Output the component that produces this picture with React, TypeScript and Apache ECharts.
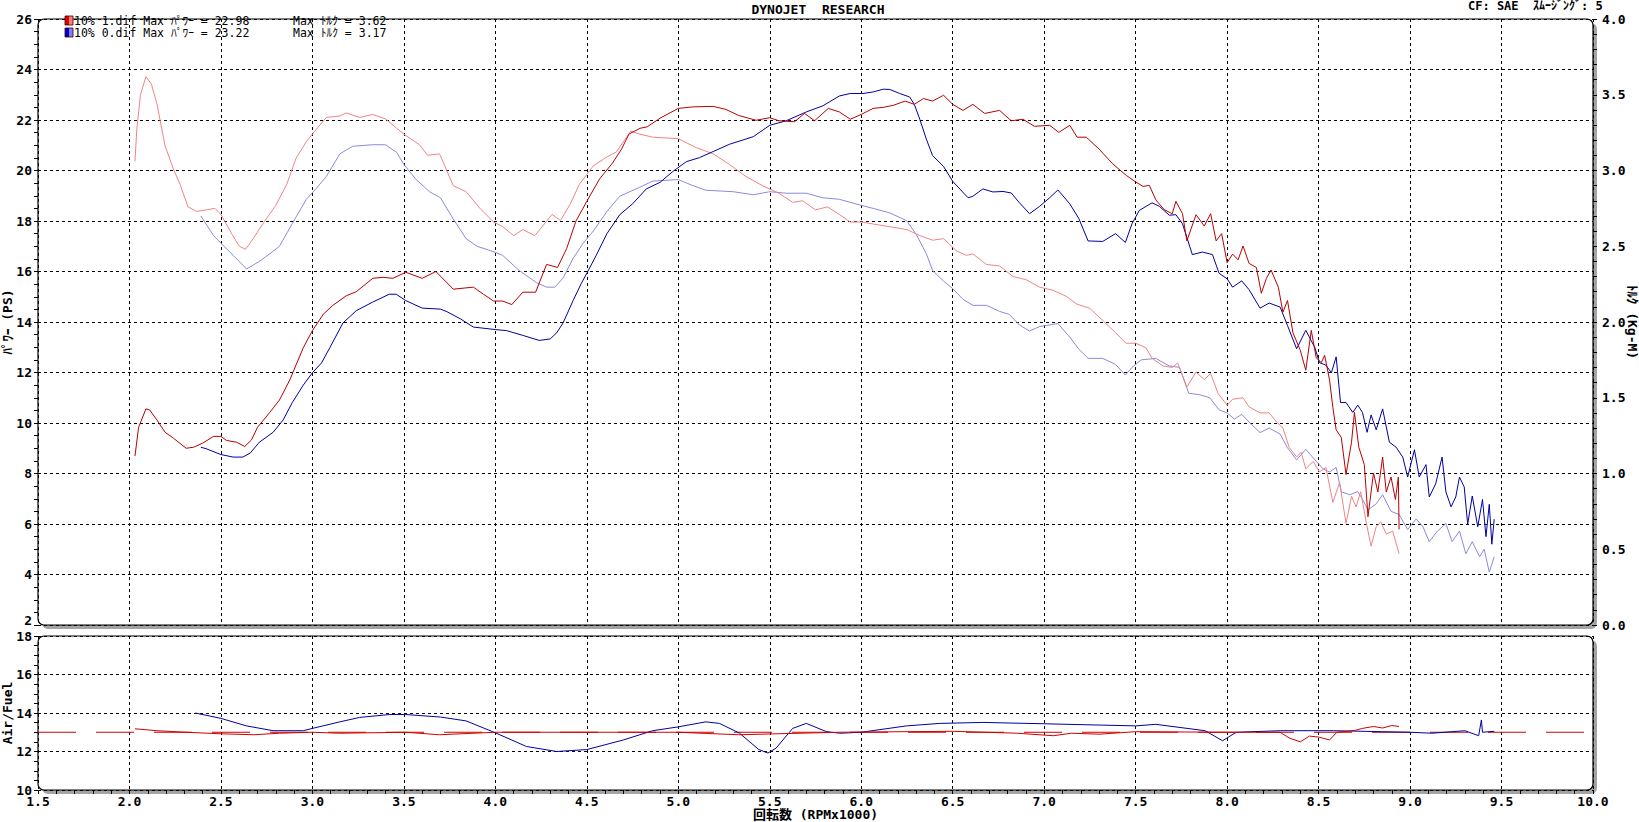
import React, { useEffect, useRef } from "react";
import * as echarts from "echarts";

// ---- Data (RPM x1000, value) ----
const powerRun1: [number, number][] = [
  [2.03,8.69],[2.05,9.83],[2.09,10.56],[2.11,10.52],[2.15,10.12],[2.195,9.63],[2.24,9.40],[2.31,9.00],[2.35,9.04],[2.40,9.20],[2.46,9.47],[2.50,9.47],[2.53,9.31],[2.585,9.24],[2.63,9.07],[2.667,9.33],[2.70,9.83],[2.767,10.42],[2.82,10.91],[2.876,11.70],[2.95,12.98],[3.00,13.66],[3.06,14.31],[3.11,14.65],[3.185,15.04],[3.24,15.20],[3.33,15.73],[3.385,15.77],[3.44,15.73],[3.51,15.97],[3.60,15.73],[3.675,16.00],[3.77,15.30],[3.88,15.38],[3.935,15.10],[3.99,14.83],[4.04,14.83],[4.09,14.69],[4.15,15.18],[4.22,15.18],[4.28,16.28],[4.34,16.16],[4.39,16.91],[4.44,17.99],[4.50,18.78],[4.57,19.67],[4.64,20.29],[4.69,20.85],[4.73,21.44],[4.79,21.67],[4.83,21.73],[4.90,22.07],[5.00,22.46],[5.08,22.52],[5.19,22.54],[5.26,22.42],[5.33,22.18],[5.425,21.99],[5.50,22.09],[5.55,21.97],[5.635,21.93],[5.69,22.26],[5.745,21.97],[5.82,22.46],[5.88,22.32],[5.94,22.03],[6.00,22.22],[6.065,22.46],[6.12,22.50],[6.175,22.58],[6.24,22.75],[6.29,22.62],[6.34,22.85],[6.39,22.75],[6.45,22.98],[6.50,22.62],[6.556,22.38],[6.61,22.62],[6.675,22.26],[6.756,22.38],[6.82,21.97],[6.884,22.03],[6.947,21.75],[7.03,21.79],[7.08,21.51],[7.14,21.79],[7.18,21.32],[7.23,21.32],[7.30,20.85],[7.375,20.26],[7.45,19.80],[7.50,19.55],[7.54,19.37],[7.575,19.41],[7.61,18.84],[7.656,18.45],[7.70,18.29],[7.72,18.78],[7.756,18.29],[7.78,17.21],[7.83,18.25],[7.875,17.80],[7.91,18.29],[7.94,17.21],[7.97,17.50],[8.00,16.35],[8.03,16.69],[8.06,16.46],[8.087,17.01],[8.12,16.32],[8.16,16.16],[8.187,15.14],[8.215,15.73],[8.24,16.06],[8.28,15.38],[8.305,14.39],[8.33,14.85],[8.36,13.57],[8.40,12.88],[8.43,12.09],[8.46,13.67],[8.487,12.58],[8.515,12.39],[8.533,12.68],[8.56,11.70],[8.578,10.62],[8.596,9.73],[8.624,9.43],[8.65,7.96],[8.68,9.24],[8.696,10.42],[8.72,9.04],[8.75,8.35],[8.77,6.29],[8.80,8.02],[8.824,7.27],[8.85,8.65],[8.87,7.27],[8.896,7.86],[8.92,6.97],[8.936,7.86],[8.94,5.79]
];

const powerRun0: [number, number][] = [
  [2.39,9.04],[2.42,8.98],[2.50,8.75],[2.567,8.65],[2.62,8.65],[2.66,8.81],[2.71,9.24],[2.785,9.63],[2.84,10.12],[2.89,10.81],[2.95,11.50],[3.00,11.99],[3.05,12.38],[3.095,12.98],[3.167,13.96],[3.24,14.45],[3.33,14.79],[3.42,15.10],[3.458,15.10],[3.51,14.85],[3.60,14.55],[3.70,14.51],[3.735,14.41],[3.81,14.12],[3.88,13.80],[4.00,13.70],[4.06,13.66],[4.15,13.47],[4.24,13.27],[4.30,13.33],[4.335,13.57],[4.37,13.96],[4.425,14.85],[4.47,15.53],[4.50,15.93],[4.55,16.62],[4.61,17.50],[4.68,18.25],[4.75,18.68],[4.825,19.27],[4.90,19.53],[4.97,19.96],[5.044,20.35],[5.116,20.51],[5.19,20.75],[5.28,21.04],[5.41,21.34],[5.50,21.79],[5.59,21.97],[5.70,22.32],[5.79,22.56],[5.88,22.95],[5.94,23.05],[6.01,23.05],[6.065,23.11],[6.12,23.22],[6.156,23.21],[6.21,23.05],[6.265,22.91],[6.29,22.62],[6.32,22.03],[6.356,21.24],[6.39,20.59],[6.45,20.16],[6.50,19.57],[6.584,18.92],[6.61,18.98],[6.665,19.27],[6.72,19.15],[6.775,19.17],[6.82,19.11],[6.865,18.72],[6.92,18.29],[6.975,18.58],[7.03,18.92],[7.075,19.23],[7.14,18.68],[7.19,18.09],[7.24,17.21],[7.32,17.19],[7.39,17.50],[7.444,17.15],[7.48,17.89],[7.52,18.42],[7.59,18.72],[7.63,18.58],[7.684,18.23],[7.72,18.25],[7.756,17.89],[7.81,16.67],[7.865,16.77],[7.92,16.67],[7.956,15.93],[8.00,15.71],[8.03,15.38],[8.08,15.63],[8.12,15.28],[8.18,14.55],[8.23,14.75],[8.29,14.59],[8.33,13.86],[8.38,12.94],[8.43,13.67],[8.48,12.98],[8.505,12.39],[8.54,12.29],[8.57,11.99],[8.596,12.62],[8.62,10.81],[8.65,10.81],[8.687,10.42],[8.714,10.71],[8.74,10.42],[8.765,9.63],[8.787,10.32],[8.815,9.73],[8.85,10.56],[8.887,9.24],[8.924,9.04],[8.96,8.65],[8.987,7.86],[9.024,8.94],[9.05,7.86],[9.087,8.35],[9.105,7.07],[9.14,7.59],[9.175,8.65],[9.196,7.27],[9.224,6.68],[9.25,7.07],[9.27,7.86],[9.296,7.47],[9.315,5.99],[9.34,7.11],[9.37,5.89],[9.396,6.97],[9.415,5.50],[9.433,6.78],[9.447,5.20],[9.46,6.19]
];

const torqueRun1: [number, number][] = [
  [2.03,3.06],[2.04,3.27],[2.06,3.50],[2.09,3.62],[2.12,3.57],[2.15,3.44],[2.195,3.16],[2.24,3.01],[2.276,2.91],[2.32,2.76],[2.367,2.73],[2.42,2.74],[2.467,2.75],[2.50,2.71],[2.56,2.58],[2.60,2.50],[2.635,2.48],[2.676,2.55],[2.73,2.65],[2.80,2.77],[2.86,2.91],[2.91,3.08],[2.967,3.19],[3.02,3.27],[3.076,3.35],[3.15,3.36],[3.185,3.38],[3.258,3.35],[3.33,3.37],[3.40,3.34],[3.46,3.28],[3.50,3.24],[3.585,3.17],[3.63,3.10],[3.695,3.11],[3.77,2.90],[3.84,2.86],[3.916,2.75],[3.99,2.66],[4.04,2.63],[4.10,2.57],[4.15,2.61],[4.216,2.57],[4.31,2.71],[4.356,2.67],[4.41,2.78],[4.46,2.91],[4.535,3.03],[4.61,3.09],[4.66,3.12],[4.74,3.26],[4.79,3.24],[4.86,3.22],[5.00,3.21],[5.10,3.15],[5.19,3.11],[5.28,3.04],[5.37,2.96],[5.46,2.90],[5.55,2.85],[5.625,2.79],[5.68,2.80],[5.75,2.74],[5.816,2.76],[5.88,2.71],[5.94,2.66],[6.00,2.66],[6.10,2.64],[6.25,2.61],[6.32,2.57],[6.39,2.54],[6.45,2.55],[6.52,2.47],[6.575,2.44],[6.61,2.45],[6.684,2.38],[6.756,2.37],[6.83,2.30],[6.90,2.28],[6.975,2.23],[7.047,2.21],[7.12,2.17],[7.175,2.12],[7.25,2.09],[7.32,2.01],[7.39,1.93],[7.447,1.86],[7.50,1.86],[7.556,1.83],[7.59,1.76],[7.65,1.71],[7.70,1.70],[7.73,1.73],[7.78,1.57],[7.83,1.67],[7.875,1.62],[7.91,1.66],[7.95,1.53],[8.00,1.45],[8.03,1.49],[8.087,1.50],[8.12,1.44],[8.18,1.40],[8.23,1.40],[8.27,1.34],[8.305,1.30],[8.34,1.17],[8.38,1.11],[8.405,1.14],[8.43,1.03],[8.47,1.08],[8.505,1.01],[8.54,1.04],[8.578,0.81],[8.615,0.94],[8.65,0.67],[8.68,0.85],[8.705,0.78],[8.73,0.88],[8.76,0.68],[8.787,0.52],[8.815,0.65],[8.84,0.68],[8.87,0.60],[8.905,0.62],[8.94,0.47]
];

const torqueRun0: [number, number][] = [
  [2.39,2.70],[2.46,2.57],[2.50,2.52],[2.567,2.44],[2.64,2.35],[2.71,2.40],[2.767,2.45],[2.82,2.50],[2.89,2.65],[2.967,2.81],[3.02,2.88],[3.076,2.96],[3.15,3.11],[3.22,3.16],[3.33,3.17],[3.40,3.17],[3.46,3.12],[3.50,3.04],[3.567,2.94],[3.64,2.86],[3.70,2.82],[3.77,2.68],[3.84,2.55],[3.90,2.50],[4.00,2.46],[4.04,2.44],[4.13,2.34],[4.225,2.26],[4.28,2.23],[4.325,2.23],[4.37,2.29],[4.425,2.42],[4.48,2.52],[4.535,2.60],[4.61,2.73],[4.68,2.83],[4.79,2.89],[4.86,2.93],[5.00,2.94],[5.08,2.90],[5.15,2.87],[5.30,2.86],[5.41,2.84],[5.50,2.86],[5.59,2.85],[5.70,2.85],[5.79,2.82],[5.88,2.81],[6.00,2.77],[6.065,2.75],[6.156,2.72],[6.247,2.67],[6.30,2.58],[6.356,2.45],[6.39,2.34],[6.45,2.27],[6.50,2.22],[6.556,2.15],[6.61,2.11],[6.684,2.11],[6.756,2.07],[6.81,2.05],[6.865,1.98],[6.92,1.94],[6.975,1.97],[7.075,1.99],[7.14,1.90],[7.19,1.82],[7.24,1.76],[7.32,1.76],[7.39,1.72],[7.444,1.65],[7.48,1.70],[7.53,1.75],[7.61,1.76],[7.684,1.71],[7.74,1.70],[7.79,1.53],[7.85,1.52],[7.905,1.50],[7.956,1.42],[8.00,1.40],[8.04,1.36],[8.08,1.39],[8.12,1.34],[8.18,1.27],[8.23,1.30],[8.29,1.26],[8.33,1.17],[8.38,1.09],[8.43,1.16],[8.48,1.09],[8.525,1.03],[8.56,1.01],[8.596,1.04],[8.624,0.88],[8.67,0.86],[8.714,0.88],[8.74,0.83],[8.77,0.76],[8.815,0.80],[8.85,0.86],[8.896,0.75],[8.94,0.73],[8.987,0.63],[9.033,0.70],[9.07,0.65],[9.105,0.55],[9.15,0.62],[9.196,0.67],[9.23,0.55],[9.27,0.62],[9.305,0.47],[9.34,0.55],[9.38,0.45],[9.405,0.50],[9.433,0.35],[9.46,0.45]
];

const afrRun1: [number, number][] = [
  [2.03,13.18],[2.15,13.08],[2.31,13.0],[2.50,12.92],[2.68,12.87],[2.82,12.95],[3.00,13.0],[3.15,12.95],[3.51,13.0],[3.695,12.87],[4.00,13.0],[4.50,13.0],[5.00,13.0],[5.33,12.87],[5.88,13.0],[6.50,13.05],[6.85,12.95],[7.05,12.82],[7.15,12.95],[7.30,12.9],[7.50,13.03],[8.00,13.0],[8.29,13.0],[8.34,12.7],[8.40,12.5],[8.45,12.8],[8.50,12.75],[8.56,12.6],[8.60,13.0],[8.70,13.1],[8.74,13.2],[8.80,13.3],[8.85,13.22],[8.90,13.35],[8.94,13.3]
];

const afrRun0: [number, number][] = [
  [2.36,14.0],[2.50,13.72],[2.64,13.33],[2.785,13.08],[2.95,13.08],[3.00,13.2],[3.15,13.54],[3.258,13.77],[3.42,13.92],[3.51,13.92],[3.70,13.79],[3.84,13.59],[4.00,12.97],[4.17,12.26],[4.335,12.0],[4.50,12.1],[4.70,12.6],[4.86,13.08],[5.00,13.28],[5.15,13.54],[5.225,13.46],[5.335,12.95],[5.44,12.1],[5.49,11.92],[5.535,12.18],[5.625,13.2],[5.70,13.46],[5.81,13.03],[5.884,12.95],[6.00,13.0],[6.247,13.33],[6.43,13.46],[6.665,13.51],[7.00,13.44],[7.50,13.33],[7.61,13.41],[7.88,13.08],[7.975,12.56],[8.05,13.0],[8.29,13.08],[8.58,13.08],[9.00,13.0],[9.12,12.95],[9.30,13.08],[9.375,12.82],[9.39,13.64],[9.396,13.0],[9.46,13.05]
];

const afrTarget: [number, number][] = [[1.5, 13], [10, 13]];

const legendRun1 = ["10% 1.dif Max ﾊﾟﾜｰ = 22.98", "Max ﾄﾙｸ = 3.62"];
const legendRun0 = ["10% 0.dif Max ﾊﾟﾜｰ = 23.22", "Max ﾄﾙｸ = 3.17"];
const titleText = "DYNOJET  RESEARCH";
const cornerText = "CF: SAE  ｽﾑｰｼﾞﾝｸﾞ: 5";

// ---- Style ----
const MONO = "'DejaVu Sans Mono', 'Noto Sans CJK JP', monospace";
const DARK_RED = "#b80000";
const DARK_BLUE = "#0000a0";
const LIGHT_RED = "#f08484";
const LIGHT_BLUE = "#8a8ae0";

const G1 = { left: 38, top: 19, width: 1555, height: 606, containLabel: false, outerBoundsMode: "none" };
const G2 = { left: 38, top: 636, width: 1555, height: 154, containLabel: false, outerBoundsMode: "none" };

const dashed = { show: true, lineStyle: { color: "#000", type: [3, 3] as number[], width: 1 } };
const tickStyle = { color: "#000", width: 1 };
const labelStyle = { color: "#000", fontFamily: MONO, fontWeight: "bold" as const, fontSize: 13 };

function panel(g: { left: number; top: number; width: number; height: number }) {
  return [
    {
      type: "rect", z: -2, silent: true,
      shape: { x: g.left + 4, y: g.top + 4, width: g.width, height: g.height, r: 6 },
      style: { fill: "#a4a4a4" },
    },
    {
      type: "rect", z: -1, silent: true,
      shape: { x: g.left, y: g.top, width: g.width, height: g.height, r: 6 },
      style: { fill: "#ffffff", stroke: "#000", lineWidth: 1.2 },
    },
  ];
}

function legendSwatch(y: number, dark: string, light: string) {
  return [
    { type: "rect", z: 10, shape: { x: 65, y, width: 4, height: 9 }, style: { fill: dark } },
    { type: "rect", z: 10, shape: { x: 69, y, width: 4, height: 9 }, style: { fill: light } },
    { type: "rect", z: 11, shape: { x: 65, y, width: 8, height: 9 }, style: { fill: "none", stroke: "#400000", lineWidth: 0.8 } },
  ];
}

function lineSeries(name: string, data: [number, number][], color: string, xi: number, yi: number, width = 1) {
  return {
    name, type: "line", xAxisIndex: xi, yAxisIndex: yi, data,
    showSymbol: false, symbol: "none", z: 5,
    lineStyle: { color, width }, itemStyle: { color },
  };
}

export default function App() {
  const ref = useRef<HTMLDivElement>(null);
  useEffect(() => {
    document.body.style.margin = "0";
    const chart = echarts.init(ref.current!, null, { renderer: "svg" });
    const textCommon = { fontFamily: MONO, fill: "#000" };
    chart.setOption({
      animation: false,
      backgroundColor: "#ffffff",
      grid: [G1, G2],
      xAxis: [
        {
          gridIndex: 0, type: "value", min: 1.5, max: 10, interval: 0.5, z: 3,
          axisLine: { show: false }, axisTick: { show: false }, axisLabel: { show: false },
          splitLine: dashed,
        },
        {
          gridIndex: 1, type: "value", min: 1.5, max: 10, interval: 0.5, z: 3,
          axisLine: { show: false },
          axisTick: { show: true, length: 4, lineStyle: tickStyle },
          minorTick: { show: true, splitNumber: 5, length: 4, lineStyle: tickStyle },
          axisLabel: { ...labelStyle, margin: 5, lineHeight: 12, formatter: (v: number) => v.toFixed(1) },
          splitLine: dashed,
          name: "回転数 (RPMx1000)", nameLocation: "middle", nameGap: 18, nameMoveOverlap: false,
          nameTextStyle: { ...labelStyle, fontSize: 13, lineHeight: 13 },
        },
      ],
      yAxis: [
        {
          gridIndex: 0, type: "value", min: 2, max: 26, interval: 2, position: "left", z: 3,
          axisLine: { show: false },
          axisTick: { show: true, length: 4, lineStyle: tickStyle },
          minorTick: { show: true, splitNumber: 4, length: 4, lineStyle: tickStyle },
          axisLabel: { ...labelStyle, margin: 6, lineHeight: 10, verticalAlignMinLabel: "bottom" },
          splitLine: dashed,
          name: "ﾊﾟﾜｰ (PS)", nameLocation: "middle", nameGap: 24, nameRotate: 90, nameMoveOverlap: false,
          nameTextStyle: { ...labelStyle },
        },
        {
          gridIndex: 0, type: "value", min: 0, max: 4, interval: 0.5, position: "right", z: 3,
          axisLine: { show: false },
          axisTick: { show: true, length: 4, lineStyle: tickStyle },
          minorTick: { show: true, splitNumber: 5, length: 4, lineStyle: tickStyle },
          axisLabel: { ...labelStyle, margin: 9, lineHeight: 10, formatter: (v: number) => v.toFixed(1) },
          splitLine: { show: false },
          name: "ﾄﾙｸ (Kg-M)", nameLocation: "middle", nameGap: 33, nameRotate: -90, nameMoveOverlap: false,
          nameTextStyle: { ...labelStyle },
        },
        {
          gridIndex: 1, type: "value", min: 10, max: 18, interval: 2, position: "left", z: 3,
          axisLine: { show: false },
          axisTick: { show: true, length: 4, lineStyle: tickStyle },
          minorTick: { show: true, splitNumber: 4, length: 4, lineStyle: tickStyle },
          axisLabel: { ...labelStyle, margin: 6, lineHeight: 10 },
          splitLine: dashed,
          name: "Air/Fuel", nameLocation: "middle", nameGap: 24, nameRotate: 90, nameMoveOverlap: false,
          nameTextStyle: { ...labelStyle },
        },
      ],
      series: [
        lineSeries("torque0", torqueRun0, LIGHT_BLUE, 0, 1),
        lineSeries("torque1", torqueRun1, LIGHT_RED, 0, 1),
        lineSeries("power0", powerRun0, DARK_BLUE, 0, 0),
        lineSeries("power1", powerRun1, DARK_RED, 0, 0),
        {
          ...lineSeries("afrTarget", afrTarget, "#d00000", 1, 2),
          lineStyle: { color: "#d00000", width: 1, type: [38, 20] },
        },
        lineSeries("afr0", afrRun0, DARK_BLUE, 1, 2),
        lineSeries("afr1", afrRun1, "#d00000", 1, 2),
      ],
      graphic: {
        elements: [
          ...panel(G1),
          ...panel(G2),
          ...legendSwatch(16, "#e00000", "#f08080"),
          ...legendSwatch(28, "#0000d0", "#8080f0"),
          { type: "text", z: 10, x: 74, y: 21, style: { ...textCommon, text: legendRun1[0], fontSize: 11.5, verticalAlign: "middle" } },
          { type: "text", z: 10, x: 293, y: 21, style: { ...textCommon, text: legendRun1[1], fontSize: 11.5, verticalAlign: "middle" } },
          { type: "text", z: 10, x: 74, y: 33, style: { ...textCommon, text: legendRun0[0], fontSize: 11.5, verticalAlign: "middle" } },
          { type: "text", z: 10, x: 293, y: 33, style: { ...textCommon, text: legendRun0[1], fontSize: 11.5, verticalAlign: "middle" } },
          { type: "text", z: 10, x: 818, y: 9, style: { ...textCommon, text: titleText, fontSize: 13, fontWeight: "bold", align: "center", verticalAlign: "middle" } },
          { type: "text", z: 10, x: 1468, y: 6, style: { ...textCommon, text: cornerText, fontSize: 12, fontWeight: "bold", verticalAlign: "middle" } },
        ],
      },
    });
    return () => chart.dispose();
  }, []);
  return (
    <div
      ref={ref}
      style={{ position: "absolute", left: 0, top: 0, width: 1639, height: 822, background: "#fff" }}
    />
  );
}
